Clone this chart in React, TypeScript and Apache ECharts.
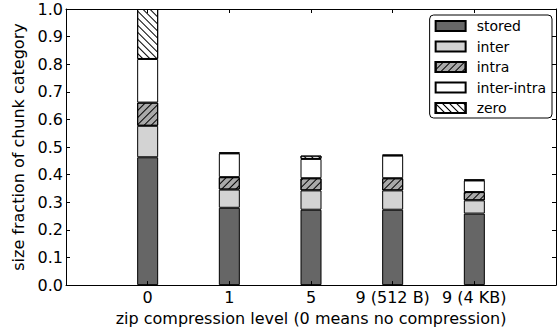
import React, { useEffect, useRef } from "react";
import * as echarts from "echarts";

const levels = ["0", "1", "5", "9 (512 B)", "9 (4 KB)"];
const seriesNames = ["stored", "inter", "intra", "inter-intra", "zero"];
const stored = [0.463, 0.28, 0.273, 0.273, 0.259];
const inter = [0.114, 0.066, 0.07, 0.07, 0.048];
const intra = [0.084, 0.045, 0.044, 0.044, 0.03];
const interIntra = [0.158, 0.086, 0.07, 0.082, 0.042];
const zero = [0.181, 0.003, 0.012, 0.003, 0.003];

const FONT = "DejaVu Sans";

export default function App() {
  const ref = useRef<HTMLDivElement>(null);
  useEffect(() => {
    if (!ref.current) return;
    const chart = echarts.init(ref.current, undefined, { renderer: "svg" });
    // padded categories so that the axis runs from -1 to 5 like the original
    const cats = ["", ...levels, ""];
    const hatch = (rot: number) => ({
      symbol: "rect",
      symbolSize: 1,
      color: "#000",
      dashArrayX: [1, 0],
      dashArrayY: [1, 3.2],
      rotation: rot,
    });
    const fills = ["#666666", "#d3d3d3", "#a9a9a9", "#ffffff", "#ffffff"];
    const decals: any[] = [null, null, hatch(-Math.PI / 4), null, hatch(Math.PI / 4)];
    const values = [stored, inter, intra, interIntra, zero];
    const series = seriesNames.map((name, k) => ({
      name,
      type: "bar",
      stack: "total",
      barWidth: 21,
      data: ["-", ...values[k], "-"],
      itemStyle: {
        color: fills[k],
        borderColor: "#000",
        borderWidth: 1,
        ...(decals[k] ? { decal: decals[k] } : {}),
      },
      emphasis: { disabled: true },
    }));
    const axisLine = { show: true, onZero: false, lineStyle: { color: "#000", width: 1 } };
    const inner = (i: number) => i > 0 && i < cats.length - 1;
    chart.setOption({
      animation: false,
      textStyle: { fontFamily: FONT },
      grid: { left: 66, top: 9, right: -1, bottom: 44, containLabel: false },
      legend: {
        orient: "vertical",
        right: 7,
        top: 15,
        icon: "rect",
        itemWidth: 30,
        itemHeight: 10,
        itemGap: 6.5,
        padding: [4, 6, 3, 5],
        borderColor: "#000",
        borderWidth: 1,
        borderRadius: 4,
        backgroundColor: "#fff",
        selectedMode: false,
        textStyle: { fontFamily: FONT, fontSize: 14, color: "#000", padding: [0, 0, 0, 6] },
        data: seriesNames,
      },
      xAxis: [
        {
          type: "category",
          data: cats,
          position: "bottom",
          boundaryGap: false,
          z: 10,
          name: "zip compression level (0 means no compression)",
          nameLocation: "middle",
          nameGap: 24,
          nameTextStyle: { fontFamily: FONT, fontSize: 16, color: "#000" },
          axisLine,
          splitLine: { show: false },
          axisTick: { show: true, inside: true, length: 4, interval: inner, lineStyle: { color: "#000" } },
          axisLabel: {
            interval: 0,
            fontFamily: FONT,
            fontSize: 16,
            color: "#000",
            margin: 4,
          },
        },
        {
          type: "category",
          data: cats,
          position: "top",
          boundaryGap: false,
          z: 10,
          axisLine,
          splitLine: { show: false },
          axisTick: { show: true, inside: true, length: 4, interval: inner, lineStyle: { color: "#000" } },
          axisLabel: { show: false },
        },
      ],
      yAxis: [
        {
          type: "value",
          position: "left",
          min: 0,
          max: 1,
          interval: 0.1,
          z: 10,
          name: "size fraction of chunk category",
          nameLocation: "middle",
          nameGap: 35,
          nameTextStyle: { fontFamily: FONT, fontSize: 16, color: "#000" },
          axisLine,
          splitLine: { show: false },
          axisTick: { show: true, inside: true, length: 4, lineStyle: { color: "#000" } },
          axisLabel: {
            formatter: (v: number) => v.toFixed(1),
            fontFamily: FONT,
            fontSize: 16,
            color: "#000",
            margin: 3,
          },
        },
        {
          type: "value",
          position: "right",
          min: 0,
          max: 1,
          interval: 0.1,
          z: 10,
          axisLine,
          splitLine: { show: false },
          axisTick: { show: true, inside: true, length: 4, lineStyle: { color: "#000" } },
          axisLabel: { show: false },
        },
      ],
      series,
    });
    return () => chart.dispose();
  }, []);
  return (
    <div
      ref={ref}
      style={{ position: "fixed", left: 0, top: 0, width: 559, height: 331, background: "#fff" }}
    />
  );
}
